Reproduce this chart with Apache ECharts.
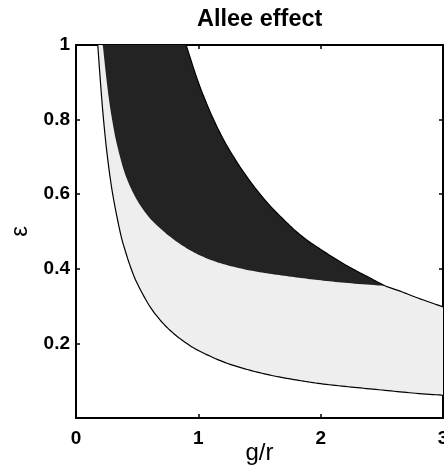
<!DOCTYPE html>
<html>
<head>
<meta charset="utf-8">
<script src="https://cdn.jsdelivr.net/npm/echarts@6/dist/echarts.min.js"></script>
<style>html,body{margin:0;padding:0;background:#fff}#c{width:444px;height:473px}</style>
</head>
<body>
<div id="c"></div>
<script>
// ---- data ----
const titleText = 'Allee effect';
const xName = 'g/r';
const yName = 'ε';
const xTicks = [0, 1, 2, 3];
const yTicks = [0, 0.2, 0.4, 0.6, 0.8, 1];

// outer (lower) boundary of the light region
const outerX = [0.178, 0.2, 0.225, 0.257, 0.3, 0.36, 0.4, 0.45, 0.5, 0.6, 0.7, 0.8, 0.9, 1.0, 1.2, 1.4, 1.6, 1.8, 2.0, 2.25, 2.5, 2.75, 3.0];
const outerY = [1.0, 0.9, 0.8, 0.7, 0.6, 0.5, 0.451, 0.401, 0.361, 0.301, 0.258, 0.226, 0.201, 0.181, 0.151, 0.130, 0.114, 0.102, 0.092, 0.083, 0.075, 0.067, 0.061];

// lower/left boundary of the dark region
const darkLowX = [0.219, 0.25, 0.28, 0.32, 0.36, 0.40, 0.45, 0.51, 0.58, 0.65, 0.765, 0.90, 1.04, 1.2, 1.4, 1.6, 1.8, 2.0, 2.25, 2.53];
const darkLowY = [1.0, 0.905, 0.83, 0.755, 0.70, 0.655, 0.615, 0.578, 0.545, 0.52, 0.487, 0.456, 0.432, 0.413, 0.397, 0.386, 0.377, 0.369, 0.361, 0.354];

// upper/right boundary of the dark region (continues to the right edge)
const darkHighX = [0.9, 1.0, 1.1, 1.2, 1.3, 1.4, 1.5, 1.6, 1.7, 1.8, 1.9, 2.0, 2.1, 2.2, 2.3, 2.4, 2.53, 2.65, 2.8, 3.0];
const darkHighY = [1.0, 0.90, 0.818, 0.75, 0.694, 0.645, 0.602, 0.564, 0.531, 0.50, 0.474, 0.452, 0.431, 0.411, 0.393, 0.376, 0.354, 0.340, 0.321, 0.298];

const meetX = 2.53; // where the two dark boundaries meet

// ---- rendering helpers ----
const zip = (xs, ys) => xs.map((x, i) => [x, ys[i]]);
const outerPts = zip(outerX, outerY);
const darkLowPts = zip(darkLowX, darkLowY);
const darkHighPts = zip(darkHighX, darkHighY);
const meetIdx = darkHighX.indexOf(meetX);

// smooth (Catmull-Rom) drawing of a pixel polyline: returns bezier segments
function segs(px) {
  const out = [];
  for (let i = 0; i < px.length - 1; i++) {
    const p0 = px[i - 1] || px[i], p1 = px[i], p2 = px[i + 1], p3 = px[i + 2] || px[i + 1];
    out.push([p1,
      [p1[0] + (p2[0] - p0[0]) / 6, p1[1] + (p2[1] - p0[1]) / 6],
      [p2[0] - (p3[0] - p1[0]) / 6, p2[1] - (p3[1] - p1[1]) / 6],
      p2]);
  }
  return out;
}
function sample(sg, reverse) {
  const list = reverse ? sg.slice().reverse().map(s => [s[3], s[2], s[1], s[0]]) : sg;
  const pts = [];
  const N = 10;
  list.forEach((s, k) => {
    for (let j = (k === 0 ? 0 : 1); j <= N; j++) {
      const t = j / N, u = 1 - t;
      const a = u * u * u, b = 3 * u * u * t, c = 3 * u * t * t, d = t * t * t;
      pts.push([a * s[0][0] + b * s[1][0] + c * s[2][0] + d * s[3][0],
                a * s[0][1] + b * s[1][1] + c * s[2][1] + d * s[3][1]]);
    }
  });
  return pts;
}

function shapeSeries(z, build) {
  return {
    type: 'custom', xAxisIndex: 0, yAxisIndex: 0, z: z, clip: true, silent: true,
    data: [[0, 0]],
    renderItem: function (params, api) {
      const C = p => api.coord(p);
      return build({
        outer: segs(outerPts.map(C)),
        low: segs(darkLowPts.map(C)),
        high: segs(darkHighPts.map(C))
      });
    }
  };
}

const lightSeries = shapeSeries(2, s => ({
  type: 'polygon',
  shape: { points: sample(s.outer).concat(sample(s.high.slice(meetIdx), true), sample(s.low, true)) },
  style: { fill: '#eeeeee', stroke: null }
}));
const darkSeries = shapeSeries(3, s => ({
  type: 'polygon',
  shape: { points: sample(s.low).concat(sample(s.high.slice(0, meetIdx), true)) },
  style: { fill: '#232323', stroke: null }
}));
const lineSer = shapeSeries(5, s => ({
  type: 'group',
  children: [
    { type: 'polyline', shape: { points: sample(s.outer) }, style: { stroke: '#000', fill: null, lineWidth: 1.2 } },
    { type: 'polyline', shape: { points: sample(s.high) }, style: { stroke: '#000', fill: null, lineWidth: 1.2 } }
  ]
}));

const chart = echarts.init(document.getElementById('c'), null, { renderer: 'canvas' });
const FONT = 'Liberation Sans, Arial, sans-serif';
const baseAxis = {
  min: 0, splitLine: { show: false },
  axisLine: { show: true, onZero: false, lineStyle: { color: '#000', width: 2 } },
  axisTick: { show: true, inside: true, length: 4, lineStyle: { color: '#000', width: 1.5 } }
};
chart.setOption({
  animation: false,
  backgroundColor: '#fff',
  title: {
    text: titleText, left: 192, top: 3,
    textStyle: { fontFamily: FONT, fontWeight: 'bold', fontSize: 23.5, color: '#000' }
  },
  grid: { left: 76, right: 1, top: 45, bottom: 55, containLabel: false, outerBoundsMode: 'none' },
  xAxis: [
    Object.assign({}, baseAxis, {
      type: 'value', position: 'bottom', max: xTicks[xTicks.length - 1], interval: 1,
      name: xName, nameLocation: 'middle', nameGap: 23, nameMoveOverlap: false,
      nameTextStyle: { fontFamily: FONT, fontSize: 24, color: '#000' },
      axisLabel: { show: true, margin: 11, color: '#000', fontFamily: FONT, fontWeight: 'bold', fontSize: 19, formatter: v => String(v) }
    }),
    Object.assign({}, baseAxis, {
      type: 'value', position: 'top', max: xTicks[xTicks.length - 1], interval: 1, axisLabel: { show: false }
    })
  ],
  yAxis: [
    Object.assign({}, baseAxis, {
      type: 'value', position: 'left', max: yTicks[yTicks.length - 1], interval: 0.2,
      name: yName, nameLocation: 'middle', nameGap: 44, nameMoveOverlap: false,
      nameTextStyle: { fontFamily: FONT, fontSize: 24, color: '#000' },
      axisLabel: { show: true, margin: 6, color: '#000', fontFamily: FONT, fontWeight: 'bold', fontSize: 19, showMinLabel: false, formatter: v => String(Math.round(v * 10) / 10) }
    }),
    Object.assign({}, baseAxis, {
      type: 'value', position: 'right', max: yTicks[yTicks.length - 1], interval: 0.2, axisLabel: { show: false }
    })
  ],
  series: [lightSeries, darkSeries, lineSer]
});
</script>
</body>
</html>
